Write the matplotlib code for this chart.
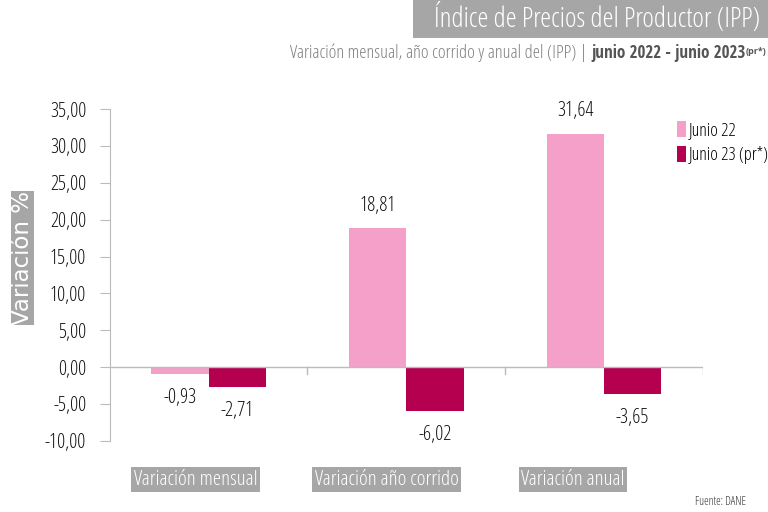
import matplotlib
matplotlib.use("Agg")
import matplotlib.pyplot as plt
import numpy as np

plt.rcParams['font.family'] = ['Open Sans', 'DejaVu Sans']
plt.rcParams['font.stretch'] = 'condensed'
plt.rcParams['font.weight'] = 'light'

categorias = ["Variación mensual", "Variación año corrido", "Variación anual"]
junio_22 = [-0.93, 18.81, 31.64]
junio_23 = [-2.71, -6.02, -3.65]
series = ["Junio 22", "Junio 23 (pr*)"]
yticks = [-10, -5, 0, 5, 10, 15, 20, 25, 30, 35]

rosa = "#F5A0C8"
vino = "#B4004E"
gris = "#A6A6A6"
texto = "#111111"

fig = plt.figure(figsize=(7.68, 5.12), dpi=100)
ax = fig.add_axes([0.143, 0.139, 0.772, 0.648])

x = np.arange(len(categorias))
w = 0.29
b1 = ax.bar(x - w / 2, junio_22, w, color=rosa, label=series[0])
b2 = ax.bar(x + w / 2, junio_23, w, color=vino, label=series[1])

def fmt(v):
    return f"{v:.2f}".replace(".", ",")

for bars, vals in [(b1, junio_22), (b2, junio_23)]:
    for r, v in zip(bars, vals):
        cx = r.get_x() + r.get_width() / 2
        if v >= 0:
            ax.annotate(fmt(v), (cx, v), xytext=(0, 9), textcoords="offset points",
                        ha="center", va="bottom", fontsize=14.5, color=texto)
        else:
            ax.annotate(fmt(v), (cx, v), xytext=(0, -10), textcoords="offset points",
                        ha="center", va="top", fontsize=14.5, color=texto)

ax.set_xlim(-0.5, 2.5)
ax.set_ylim(-10, 35)
ax.set_yticks(yticks)
ax.set_yticklabels([fmt(t) for t in yticks], fontsize=14.5, color=texto)
ax.tick_params(axis="y", direction="out", length=7, color="#BBBBBB", pad=10)
ax.set_xticks([])
for s in ["top", "right", "bottom"]:
    ax.spines[s].set_visible(False)
ax.spines["left"].set_color("#BBBBBB")
ax.axhline(0, color="#BBBBBB", lw=1)
for sep in [0.5, 1.5, 2.5]:
    ax.plot([sep, sep], [0, -1.0], color="#BBBBBB", lw=1)

# etiquetas de categoria con caja gris (un poco corridas a la izquierda)
desplaz = [-0.065, -0.1, -0.157]
for xi, d, c in zip(x, desplaz, categorias):
    ax.text(xi + d, -15.3, c, ha="center", va="center", fontsize=15, color="white",
            bbox=dict(boxstyle="square,pad=0.12", fc=gris, ec="none"))

# titulo eje y
fig.text(0.029, 0.496, "Variación %", rotation=90, ha="center", va="center",
         fontsize=16.5, color="white", family="DejaVu Sans", stretch="normal",
         weight="normal", bbox=dict(boxstyle="square,pad=0.0", fc=gris, ec="none"))

leg = ax.legend(loc="upper left", bbox_to_anchor=(0.945, 0.985), frameon=False,
                prop=dict(size=13), handlelength=0.5, handleheight=1.0,
                handletextpad=0.15, labelspacing=0.35, borderaxespad=0)

# titulo
fig.patches.append(plt.Rectangle((0.538, 0.926), 0.47, 0.08, transform=fig.transFigure,
                                 fc=gris, ec="none"))
fig.text(0.99, 0.962, "Índice de Precios del Productor (IPP)", ha="right", va="center",
         fontsize=20, color="white")

base_y = 0.887 * 512
t3 = fig.text(0, 0, "(pr*)", ha="right", va="baseline", fontsize=6.5, color="#555555",
              weight="bold", transform=None)
t3.set_position((0.998 * 768, base_y + 4))
t2 = fig.text(0, 0, "junio 2022 - junio 2023", ha="right", va="baseline", fontsize=12.3,
              family="Open Sans Condensed", weight="bold", color="#555555", transform=None)
t1 = fig.text(0, 0, "Variación mensual, año corrido y anual del (IPP) | ", ha="right",
              va="baseline", fontsize=13.3, color="#808080", transform=None)
fig.canvas.draw()
r = fig.canvas.get_renderer()
bb3 = t3.get_window_extent(r)
t2.set_position((bb3.x0, base_y))
fig.canvas.draw()
bb2 = t2.get_window_extent(r)
t1.set_position((bb2.x0 - 1, base_y))

fig.text(0.972, 0.008, "Fuente: DANE", ha="right", va="bottom", fontsize=8.5,
         color="#333333", weight="normal")

fig.savefig("out.png", dpi=100)
